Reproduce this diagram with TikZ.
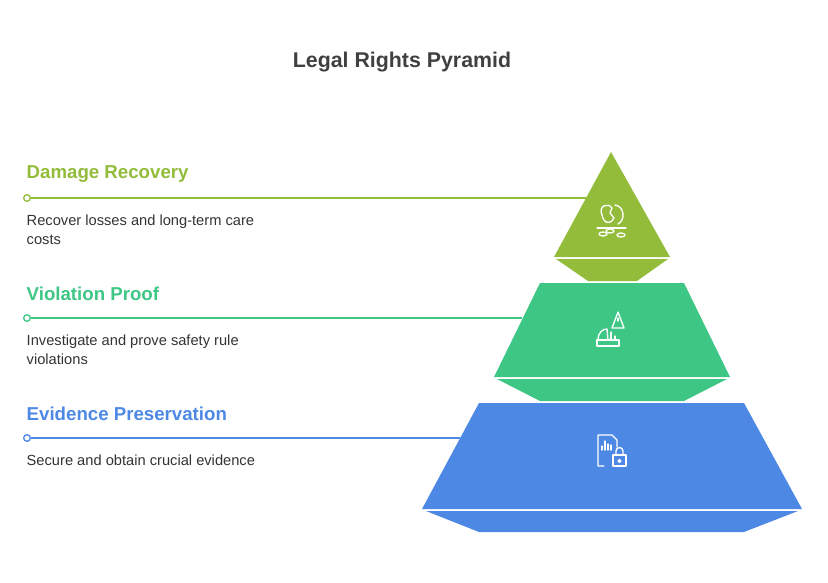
\documentclass[tikz,border=0pt]{standalone}
\usepackage{fontspec}
\setmainfont{Liberation Sans}
\begin{document}
\begin{tikzpicture}[x=0.75pt,y=-0.75pt,
  head/.style={anchor=west,font=\bfseries\fontsize{14}{16}\selectfont},
  body/.style={anchor=north west,align=left,font=\fontsize{11}{14}\selectfont,text=black!80},
  ic/.style={draw=white,line width=1pt,line cap=round,line join=round},
  dot/.style={circle,draw=#1,fill=white,line width=1pt,inner sep=0pt,minimum size=5pt}]
\definecolor{cA}{HTML}{92BC3A}
\definecolor{cB}{HTML}{3DC684}
\definecolor{cC}{HTML}{4E88E5}
\useasboundingbox (0,0) rectangle (828,582);
\node[font=\bfseries\fontsize{16}{18}\selectfont,text=black!75] (title) at (402,62) {Legal Rights Pyramid};
% tiers
\fill[cA] (611,152) -- (670,257) -- (554,257) -- cycle;
\fill[cA] (556,259) -- (668,259) -- (637,281) -- (588,281) -- cycle;
\fill[cB] (540,283) -- (684,283) -- (730,377) -- (494,377) -- cycle;
\fill[cB] (497,379) -- (727,379) -- (684,401) -- (540,401) -- cycle;
\fill[cC] (479,403) -- (744,403) -- (802,509) -- (422,509) -- cycle;
\fill[cC] (426,511) -- (798,511) -- (744,532) -- (479,532) -- cycle;
% leaders
\coordinate (eA) at (586,198); \coordinate (eB) at (522,318); \coordinate (eC) at (460,438);
\node[dot=cA] (dA) at (27,198) {};
\node[dot=cB] (dB) at (27,318) {};
\node[dot=cC] (dC) at (27,438) {};
\draw[cA,line width=1pt] (dA) -- (eA);
\draw[cB,line width=1pt] (dB) -- (eB);
\draw[cC,line width=1pt] (dC) -- (eC);
% texts
\node[head,text=cA] (hA) at (22,174) {Damage Recovery};
\node[body] (bA) at (22,210) {Recover losses and long-term care\\costs};
\node[head,text=cB] (hB) at (22,294) {Violation Proof};
\node[body] (bB) at (22,330) {Investigate and prove safety rule\\violations};
\node[head,text=cC] (hC) at (22,414) {Evidence Preservation};
\node[body] (bC) at (22,450) {Secure and obtain crucial evidence};
% icon A: broken piggy bank
\draw[ic] (602,215) .. controls (598,206) and (608,202) .. (612,208) -- (610,213) -- (614,218) .. controls (612,224) and (604,225) .. (602,215);
\draw[ic] (615,205) .. controls (624,206) and (626,220) .. (618,224);
\draw[ic] (597,228) -- (626,228);
\draw[ic] (603,234) ellipse (3pt and 1.5pt);
\draw[ic] (610,231) ellipse (3pt and 1.5pt);
\draw[ic] (621,235) ellipse (3pt and 1.5pt);
% icon B: warning + helmet
\draw[ic] (618,312) -- (624,328) -- (612,328) -- cycle;
\draw[ic] (618,318) -- (618,321);
\draw[ic] (598,340) .. controls (598,332) and (603,329) .. (607,329) -- (608,340);
\draw[ic] (611,332) -- (611,340); \draw[ic] (615,336) -- (615,340);
\draw[ic] (597,340) rectangle (619,346);
% icon C: document + lock
\draw[ic] (604,466) -- (598,466) -- (598,435) -- (612,435) -- (617,440) -- (617,447);
\draw[ic] (602,450) -- (602,446) (605,450) -- (605,441) (608,450) -- (608,444) (611,450) -- (611,445);
\draw[ic] (613,455) rectangle (626,466);
\draw[ic] (616,455) -- (616,451) arc (180:360:3.5) -- (623,455);
\draw[ic] (619.5,461) circle (1pt);
\end{tikzpicture}
\end{document}
